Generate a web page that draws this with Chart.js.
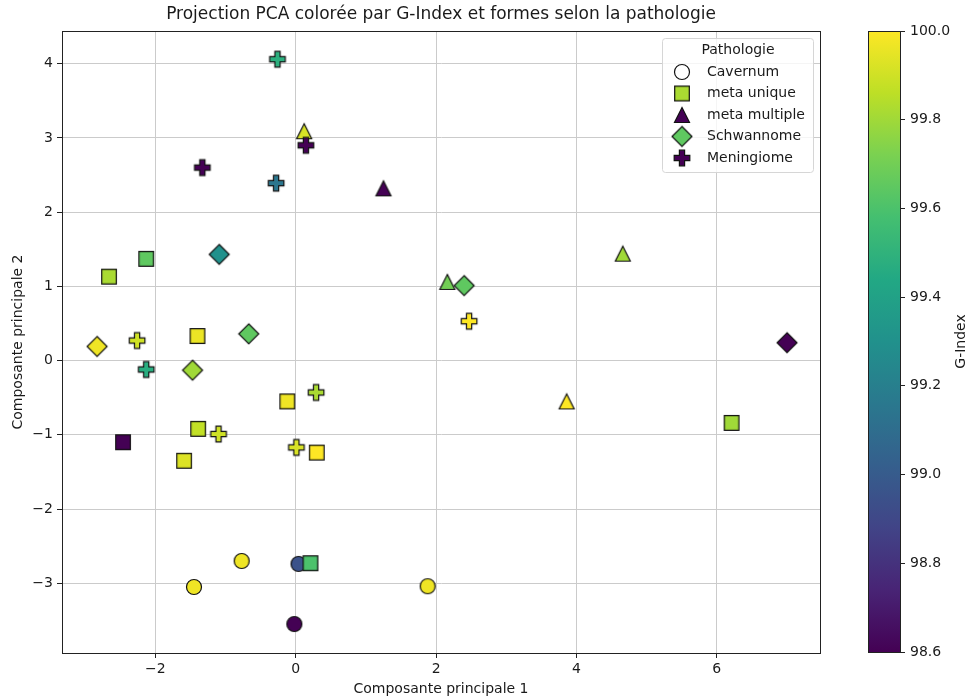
<!DOCTYPE html>
<html>
<head>
<meta charset="utf-8">
<script src="https://cdn.jsdelivr.net/npm/chart.js@4.4.1/dist/chart.umd.min.js"></script>
<style>
  html, body { margin: 0; padding: 0; background: #fff; }
  #wrap { position: relative; width: 970px; height: 700px; }
  #wrap canvas { position: absolute; left: 0; top: 0; }
</style>
</head>
<body>
<div id="wrap">
  <canvas id="pca" width="970" height="700"></canvas>
  <canvas id="cbar" width="970" height="700"></canvas>
</div>
<script>
// data: PC1, PC2 and G-Index per sample, by pathology
var cavernumX = [-0.77, 0.04, -1.45, 1.88, -0.02];
var cavernumY = [-2.70, -2.74, -3.05, -3.04, -3.55];
var cavernumG = [99.97, 98.95, 99.97, 99.97, 98.6];

var metaUniqueX = [-2.13, -2.66, -1.40, -0.12, -1.39, -2.46, 0.30, -1.59, 0.21, 6.21];
var metaUniqueY = [1.37, 1.13, 0.33, -0.55, -0.92, -1.10, -1.24, -1.35, -2.73, -0.84];
var metaUniqueG = [99.65, 99.82, 99.96, 99.97, 99.87, 98.6, 100.0, 99.93, 99.6, 99.8];

var metaMultX = [0.12, 1.25, 2.16, 4.66, 3.86];
var metaMultY = [3.09, 2.32, 1.06, 1.44, -0.55];
var metaMultG = [99.92, 98.6, 99.7, 99.8, 100.0];

var schwX = [-1.09, 2.40, 7.0, -2.83, -0.67, -1.47];
var schwY = [1.43, 1.01, 0.24, 0.19, 0.36, -0.13];
var schwG = [99.3, 99.65, 98.6, 99.97, 99.65, 99.8];

var meningX = [-0.26, 0.145, -1.33, -0.28, 2.47, -2.26, -2.13, 0.29, -1.10, 0.01];
var meningY = [4.06, 2.90, 2.60, 2.39, 0.53, 0.27, -0.12, -0.43, -0.99, -1.17];
var meningG = [99.48, 98.6, 98.6, 99.15, 100.0, 99.9, 99.47, 99.82, 99.9, 99.92];

var pathologies = ['Cavernum', 'meta unique', 'meta multiple', 'Schwannome', 'Meningiome'];
var legendG = [null, 99.82, 98.6, 99.65, 98.6];
var gMin = 98.6, gMax = 100.0;

// viridis
var viridisStops = ['#440154', '#482475', '#414487', '#355f8d', '#2a788e', '#21918c',
                    '#22a884', '#44bf70', '#7ad151', '#bddf26', '#fde725'];

function hexToRgb(h) {
  return [parseInt(h.substr(1, 2), 16), parseInt(h.substr(3, 2), 16), parseInt(h.substr(5, 2), 16)];
}

function viridis(g) {
  var t = (g - gMin) / (gMax - gMin);
  t = Math.max(0, Math.min(1, t));
  var p = t * (viridisStops.length - 1);
  var i = Math.min(Math.floor(p), viridisStops.length - 2);
  var f = p - i;
  var a = hexToRgb(viridisStops[i]), b = hexToRgb(viridisStops[i + 1]);
  var c = a.map(function (v, k) { return Math.round(v + (b[k] - v) * f); });
  return 'rgb(' + c.join(',') + ')';
}

// matplotlib-like markers drawn on small canvases
function makeMarker(shape, fill) {
  var c = document.createElement('canvas');
  c.width = c.height = 26;
  var g = c.getContext('2d');
  var m = 13;
  g.beginPath();
  if (shape === 'circle') {
    g.arc(m, m, 7.5, 0, Math.PI * 2);
  } else if (shape === 'square') {
    g.rect(m - 7.3, m - 7.3, 14.6, 14.6);
  } else if (shape === 'triangle') {
    g.moveTo(m, m - 7.5); g.lineTo(m + 7.5, m + 7.5); g.lineTo(m - 7.5, m + 7.5); g.closePath();
  } else if (shape === 'diamond') {
    g.moveTo(m, m - 10); g.lineTo(m + 10, m); g.lineTo(m, m + 10); g.lineTo(m - 10, m); g.closePath();
  } else if (shape === 'plus') {
    var a = 7.8, b = a / 3;
    var pts = [[-b, -a], [b, -a], [b, -b], [a, -b], [a, b], [b, b], [b, a], [-b, a], [-b, b], [-a, b], [-a, -b], [-b, -b]];
    pts.forEach(function (p, k) { if (k === 0) g.moveTo(m + p[0], m + p[1]); else g.lineTo(m + p[0], m + p[1]); });
    g.closePath();
  }
  g.fillStyle = fill;
  g.fill();
  g.lineWidth = 1.2;
  g.strokeStyle = '#111';
  g.stroke();
  return c;
}

var shapes = ['circle', 'square', 'triangle', 'diamond', 'plus'];
var groups = [
  [cavernumX, cavernumY, cavernumG],
  [metaUniqueX, metaUniqueY, metaUniqueG],
  [metaMultX, metaMultY, metaMultG],
  [schwX, schwY, schwG],
  [meningX, meningY, meningG]
];

function fmt(v) {
  return v < 0 ? '\u2212' + Math.abs(v) : String(v);
}

Chart.defaults.font.family = "'DejaVu Sans', sans-serif";
Chart.defaults.font.size = 14;
Chart.defaults.color = '#1a1a1a';

var datasets = groups.map(function (grp, i) {
  return {
    label: pathologies[i],
    data: grp[0].map(function (x, k) { return { x: x, y: grp[1][k] }; }),
    pointStyle: grp[2].map(function (g) { return makeMarker(shapes[i], viridis(g)); }),
    pointRadius: 8,
    order: 5 - i
  };
});

var framePlugin = {
  id: 'frame',
  afterDraw: function (chart) {
    var ctx = chart.ctx, a = chart.chartArea;
    ctx.save();
    ctx.strokeStyle = '#222';
    ctx.lineWidth = 1;
    ctx.strokeRect(Math.round(a.left) + 0.5, Math.round(a.top) + 0.5,
                   Math.round(a.right - a.left), Math.round(a.bottom - a.top));

    // title
    ctx.fillStyle = '#1a1a1a';
    ctx.font = "17px 'DejaVu Sans'";
    ctx.textAlign = 'center';
    ctx.textBaseline = 'middle';
    ctx.fillText('Projection PCA color\u00e9e par G-Index et formes selon la pathologie', (a.left + a.right) / 2, 15);

    // legend
    var bx = 662.5, by = 38.5, bw = 151, bh = 134;
    ctx.beginPath();
    ctx.roundRect(bx, by, bw, bh, 3);
    ctx.fillStyle = 'rgba(255,255,255,0.8)';
    ctx.fill();
    ctx.strokeStyle = '#d6d6d6';
    ctx.stroke();
    ctx.fillStyle = '#1a1a1a';
    ctx.font = "14px 'DejaVu Sans'";
    ctx.fillText('Pathologie', bx + bw / 2, 50);
    ctx.textAlign = 'left';
    pathologies.forEach(function (name, i) {
      var yy = 72 + i * 21.5;
      var col = legendG[i] === null ? '#ffffff' : viridis(legendG[i]);
      var mk = makeMarker(shapes[i], col);
      ctx.drawImage(mk, 682 - 13, yy - 13);
      ctx.fillStyle = '#1a1a1a';
      ctx.fillText(name, 707, yy);
    });
    ctx.restore();
  }
};

new Chart(document.getElementById('pca'), {
  type: 'scatter',
  data: { datasets: datasets },
  options: {
    responsive: false,
    animation: false,
    layout: { padding: { left: 0, right: 150, top: 31, bottom: 0 } },
    plugins: { legend: { display: false }, tooltip: { enabled: false } },
    scales: {
      x: {
        type: 'linear', min: -3.33, max: 7.47,
        ticks: { stepSize: 2, includeBounds: false, padding: 3, callback: fmt },
        grid: { color: '#cbcbcb', tickColor: '#222', tickLength: 5 },
        border: { color: '#222' },
        title: { display: true, text: 'Composante principale 1', padding: { top: 0, bottom: 2 } },
        afterFit: function (s) { s.height = 47; }
      },
      y: {
        type: 'linear', min: -3.94, max: 4.44,
        ticks: { stepSize: 1, includeBounds: false, padding: 4, callback: fmt },
        grid: { color: '#cbcbcb', tickColor: '#222', tickLength: 5 },
        border: { color: '#222' },
        title: { display: true, text: 'Composante principale 2', padding: { top: 9.5, bottom: 0 } },
        afterFit: function (s) { s.width = 62; }
      }
    }
  },
  plugins: [framePlugin]
});

// colour bar
var cbTicks = [98.6, 98.8, 99.0, 99.2, 99.4, 99.6, 99.8, 100.0];

var colorbarPlugin = {
  id: 'colorbar',
  afterDraw: function (chart) {
    var ctx = chart.ctx, a = chart.chartArea, ys = chart.scales.y;
    var y0 = ys.getPixelForValue(gMin), y1 = ys.getPixelForValue(gMax);
    var grad = ctx.createLinearGradient(0, y0, 0, y1);
    viridisStops.forEach(function (c, i) { grad.addColorStop(i / (viridisStops.length - 1), c); });
    ctx.save();
    ctx.fillStyle = grad;
    ctx.fillRect(a.left, y1, a.right - a.left, y0 - y1);
    ctx.strokeStyle = '#222';
    ctx.lineWidth = 1;
    ctx.strokeRect(Math.round(a.left) + 0.5, Math.round(y1) + 0.5, Math.round(a.right - a.left), Math.round(y0 - y1));
    ctx.translate(961, (y0 + y1) / 2);
    ctx.rotate(-Math.PI / 2);
    ctx.fillStyle = '#1a1a1a';
    ctx.font = "14px 'DejaVu Sans'";
    ctx.textAlign = 'center';
    ctx.textBaseline = 'middle';
    ctx.fillText('G-Index', 0, 0);
    ctx.restore();
  }
};

new Chart(document.getElementById('cbar'), {
  type: 'scatter',
  data: { datasets: [] },
  options: {
    responsive: false,
    animation: false,
    layout: { padding: { left: 868, right: 0, top: 31, bottom: 48 } },
    plugins: { legend: { display: false }, tooltip: { enabled: false } },
    scales: {
      x: { display: false },
      y: {
        position: 'right', min: cbTicks[0], max: cbTicks[cbTicks.length - 1],
        ticks: { stepSize: 0.2, padding: 5, callback: function (v) { return v.toFixed(1); } },
        grid: { drawOnChartArea: false, tickColor: '#222', tickLength: 5 },
        border: { display: false },
        afterFit: function (s) { s.width = 70; }
      }
    }
  },
  plugins: [colorbarPlugin]
});
</script>
</body>
</html>
